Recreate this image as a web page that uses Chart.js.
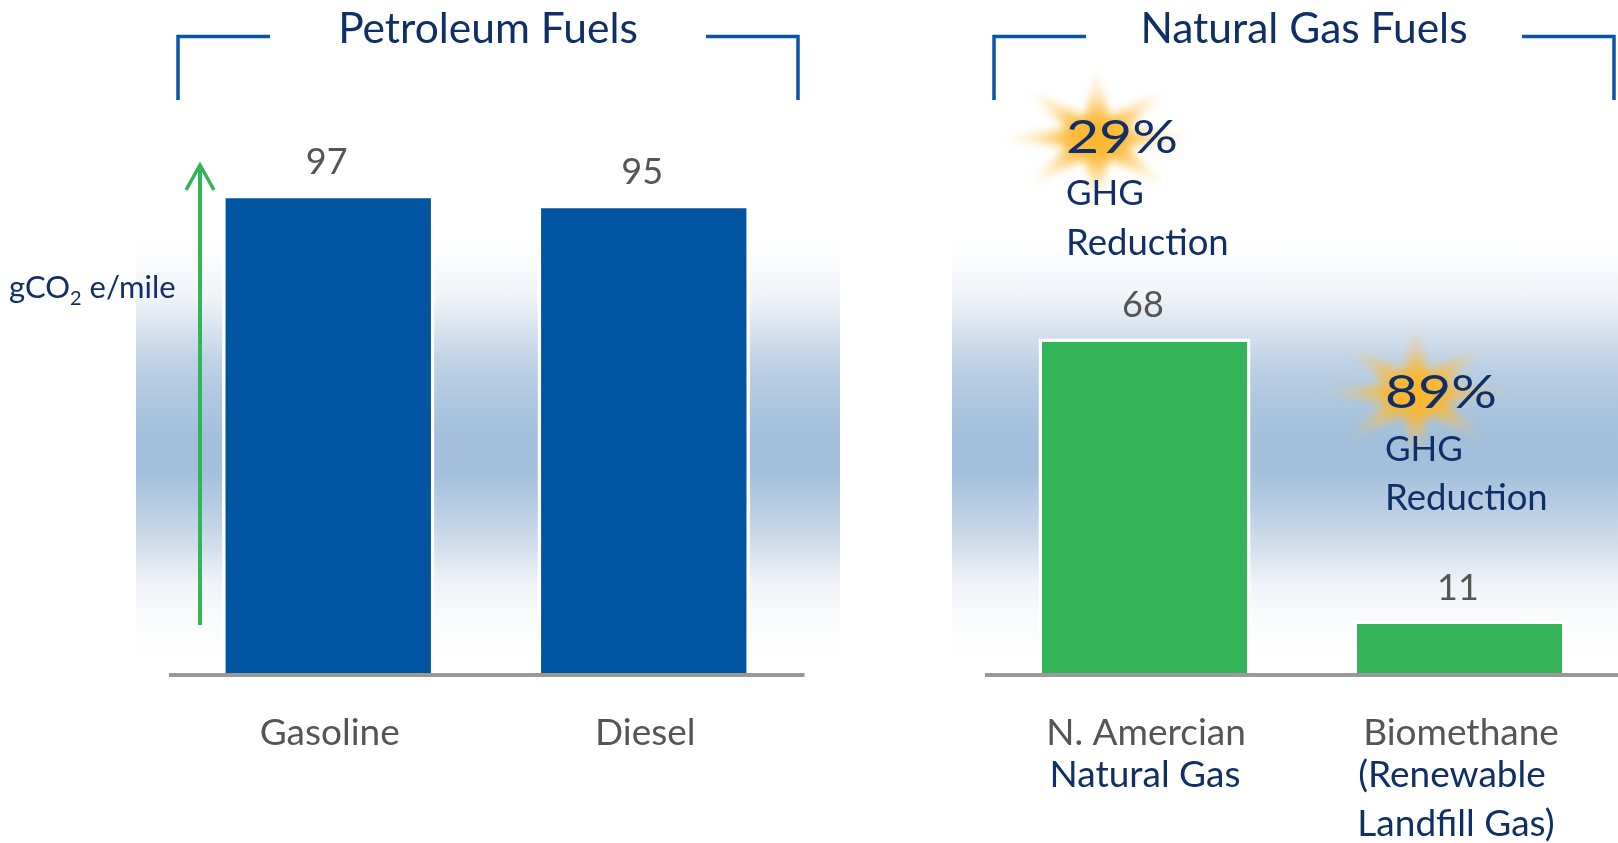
<!DOCTYPE html>
<html><head><meta charset="utf-8">
<script src="https://cdn.jsdelivr.net/npm/chart.js@4"></script>
<style>
html,body{margin:0;padding:0;background:#fff;overflow:hidden}
#stage{position:relative;width:1618px;height:843px;overflow:hidden}
.band{position:absolute;top:240px;height:420px;background:linear-gradient(to bottom,#fff 0,#fafbfd 23px,#eef2f7 60px,#d8e2ee 90px,#bfd1e5 123px,#afc8e0 157px,#a3bfdb 197px,#a3bfdb 230px,#bbcfe4 273px,#d3deeb 307px,#eef1f7 340px,#f9fafc 373px,#fefefe 407px,#fff 420px)}
canvas{position:absolute;top:0}
</style></head><body>
<div id="stage">
<div class="band" style="left:136px;width:704px"></div>
<div class="band" style="left:952px;width:666px"></div>
<canvas id="left" width="810" height="843" style="left:0"></canvas>
<canvas id="right" width="808" height="843" style="left:810px"></canvas>
</div>
<script>
const petroleumCategories = ["Gasoline", "Diesel"];
const petroleumValues = [97, 95];
const gasCategories = ["N. Amercian", "Biomethane"];
const gasValues = [68, 11];

const FONT = "Lato, 'Open Sans', sans-serif";
const NAVY = "#0f2f66", GRAY = "#555555", RULE = "#0b55a5", BLUE = "#0054a2", GREEN = "#33b459";

function txt(ctx, s, x, y, size, color, align, weight) {
  ctx.font = (weight || 400) + " " + size + "px " + FONT;
  ctx.fillStyle = color; ctx.textAlign = align || "left"; ctx.textBaseline = "alphabetic";
  ctx.fillText(s, x, y);
}
function pct(ctx, s, x, y) {
  ctx.save(); ctx.translate(x, y); ctx.scale(1.24, 1);
  txt(ctx, s, 0, 0, 46, NAVY, "left", 400);
  ctx.restore();
}
function bracket(ctx, x0, x1, x2, x3) {
  ctx.strokeStyle = RULE; ctx.lineWidth = 3.5; ctx.lineCap = "butt"; ctx.lineJoin = "miter";
  ctx.beginPath(); ctx.moveTo(x0, 100); ctx.lineTo(x0, 36.5); ctx.lineTo(x1, 36.5); ctx.stroke();
  ctx.beginPath(); ctx.moveTo(x2, 36.5); ctx.lineTo(x3, 36.5); ctx.lineTo(x3, 100); ctx.stroke();
}
function star(ctx, cx, cy) {
  ctx.save();
  ctx.filter = "blur(4px)";
  ctx.translate(cx, cy); ctx.scale(1.42, 1);
  const g = ctx.createRadialGradient(0, 0, 0, 0, 0, 70);
  g.addColorStop(0, "rgba(251,180,40,1)");
  g.addColorStop(0.28, "rgba(251,182,45,.92)");
  g.addColorStop(0.58, "rgba(251,192,80,.45)");
  g.addColorStop(1, "rgba(251,205,120,0)");
  ctx.fillStyle = g;
  ctx.beginPath();
  for (let i = 0; i < 16; i++) {
    const a = i * Math.PI / 8, r = i % 2 ? 23 : 70;
    ctx.lineTo(r * Math.sin(a), -r * Math.cos(a));
  }
  ctx.closePath(); ctx.fill();
  ctx.restore();
}
function valueLabels(chart) {
  const ctx = chart.ctx, meta = chart.getDatasetMeta(0);
  meta.data.forEach((b, i) => txt(ctx, String(chart.data.datasets[0].data[i]), b.x - 1.5, b.y - 21, 36, GRAY, "center"));
}
const leftDecor = { id: "leftDecor", afterDraw(chart) {
  const ctx = chart.ctx;
  // the baseline runs slightly past the plot area on the right
  ctx.fillStyle = "#999999";
  ctx.fillRect(chart.chartArea.right, chart.chartArea.bottom - 2, 3, 4);
  bracket(ctx, 178, 270, 706, 798);
  txt(ctx, "Petroleum Fuels", 488, 43, 42.5, NAVY, "center");
  valueLabels(chart);
  ctx.strokeStyle = GREEN; ctx.lineWidth = 4; ctx.lineJoin = "miter";
  ctx.beginPath(); ctx.moveTo(200, 625); ctx.lineTo(200, 165); ctx.stroke();
  ctx.lineWidth = 3.5;
  ctx.beginPath(); ctx.moveTo(186, 190); ctx.lineTo(200, 165); ctx.lineTo(214, 190); ctx.stroke();
  txt(ctx, "gCO", 9, 298, 31, NAVY);
  let w = ctx.measureText("gCO").width;
  txt(ctx, "2", 9 + w, 305, 20, NAVY);
  w += ctx.measureText("2").width;
  txt(ctx, " e/mile", 9 + w, 298, 31, NAVY);
}};
const OX = 810;
const rightDecor = { id: "rightDecor",
  beforeDatasetsDraw(chart) {
    star(chart.ctx, 1097 - OX, 138);
    star(chart.ctx, 1416 - OX, 393);
  },
  afterDraw(chart) {
    const ctx = chart.ctx;
    bracket(ctx, 994 - OX, 1086 - OX, 1522 - OX, 1614 - OX);
    txt(ctx, "Natural Gas Fuels", 1304 - OX, 43, 42.5, NAVY, "center");
    valueLabels(chart);
    pct(ctx, "29%", 1066 - OX, 153);
    txt(ctx, "GHG", 1066 - OX, 205, 35, NAVY);
    txt(ctx, "Reduction", 1066 - OX, 255, 36.5, NAVY);
    pct(ctx, "89%", 1385 - OX, 408);
    txt(ctx, "GHG", 1385 - OX, 461, 35, NAVY);
    txt(ctx, "Reduction", 1385 - OX, 510, 36.5, NAVY);
    txt(ctx, "Natural Gas", 1145 - OX, 787, 37, NAVY, "center");
    txt(ctx, "(Renewable", 1452 - OX, 787, 37, NAVY, "center");
    txt(ctx, "Landfill Gas)", 1456 - OX, 836, 37, NAVY, "center");
  }
};
function makeChart(id, labels, values, color, padding, decor) {
  return new Chart(document.getElementById(id), {
    type: "bar",
    data: { labels, datasets: [{ data: values, backgroundColor: color, borderColor: "#ffffff",
      borderWidth: 3.5, borderSkipped: "bottom", categoryPercentage: 1, barPercentage: 0.673 }] },
    options: {
      responsive: false, animation: false, devicePixelRatio: 1,
      layout: { padding },
      plugins: { legend: { display: false }, tooltip: { enabled: false }, title: { display: false } },
      scales: {
        y: { display: false, min: 0, max: 120 },
        x: {
          grid: { display: false, drawTicks: false },
          border: { color: "#999999", width: 4, z: 1 },
          ticks: { color: GRAY, font: { family: FONT, size: 37 }, padding: 36, maxRotation: 0, autoSkip: false, labelOffset: 1.5 },
          afterFit(scale) { scale.height = 168; }
        }
      }
    },
    plugins: [decor]
  });
}
makeChart("left", petroleumCategories, petroleumValues, BLUE, { left: 170.5, right: 8.5, top: 81, bottom: 0 }, leftDecor);
makeChart("right", gasCategories, gasValues, GREEN, { left: 177, right: 1, top: 81, bottom: 0 }, rightDecor);
</script>
</body></html>
